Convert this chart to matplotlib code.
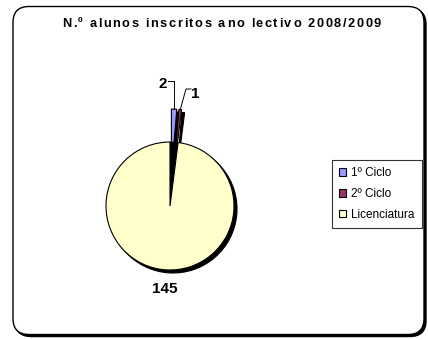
import matplotlib
matplotlib.use('Agg')
import numpy as np
import matplotlib.pyplot as plt
from matplotlib.patches import FancyBboxPatch, Wedge, Rectangle

plt.rcParams['font.family'] = ['Liberation Sans', 'DejaVu Sans']

W, H = 428, 340

categorias = ['1º Ciclo', '2º Ciclo', 'Licenciatura']
alunos = [2, 1, 145]
cores = ['#9999FF', '#993366', '#FFFFCC']
titulo = 'N.º alunos inscritos ano lectivo 2008/2009'

fig = plt.figure(figsize=(W / 100, H / 100), dpi=100)
ax = fig.add_axes([0, 0, 1, 1])


def Y(y):
    # pixel rows counted from the top
    return H - y


# rounded chart area with its shadow
ax.add_patch(FancyBboxPatch((15, Y(336.5)), 411, 328,
                            boxstyle='round,pad=0,rounding_size=16',
                            fc='black', ec='black', lw=1, zorder=0))
ax.add_patch(FancyBboxPatch((13, Y(334.5)), 411, 328,
                            boxstyle='round,pad=0,rounding_size=16',
                            fc='white', ec='black', lw=1, zorder=0.5))

# pie, small slices pulled out to the top
cx, cy, raio = 170, Y(206), 64
wedges, _ = ax.pie(alunos, colors=cores, startangle=90, counterclock=False,
                   explode=[33, 33, 0], center=(cx, cy), radius=raio,
                   wedgeprops=dict(edgecolor='black', linewidth=0.8))
for w in wedges[:2]:
    w.set_zorder(2)
wedges[2].set_zorder(4)

for w in wedges:
    ax.add_patch(Wedge((w.center[0] + 3, w.center[1] - 3), w.r, w.theta1, w.theta2,
                       fc='black', ec='black', lw=0.8, zorder=1))

# dark hole left behind by the pulled-out slices
grande = wedges[2]
ax.add_patch(Wedge((cx, cy), raio, grande.theta2, grande.theta1 + 360,
                   fc='black', ec='black', lw=0.5, zorder=3))

# value labels with leader lines
lab_fs = 11
pontas = []
for w in wedges[:2]:
    meio = np.deg2rad((w.theta1 + w.theta2) / 2)
    pontas.append((w.center[0] + w.r * np.cos(meio), w.center[1] + w.r * np.sin(meio)))

px, py = pontas[0]
ax.text(162.5, Y(83.5), str(alunos[0]), ha='center', va='center',
        fontsize=lab_fs, fontweight='bold', zorder=6)
ax.plot([168, px, px], [Y(81), Y(81), py], color='black', lw=0.7, zorder=6)

px, py = pontas[1]
ax.text(195, Y(94), str(alunos[1]), ha='center', va='center',
        fontsize=lab_fs, fontweight='bold', zorder=6)
ax.plot([191, 186, px], [Y(89), Y(89), py], color='black', lw=0.7, zorder=6)

ax.text(165, Y(289), str(alunos[2]), ha='center', va='center',
        fontsize=lab_fs, fontweight='bold', zorder=6)

# title with wide letter spacing
renderer = fig.canvas.get_renderer()
tit_fs = 9.2
medida = ax.text(0, 0, '', fontsize=tit_fs, fontweight='bold', alpha=0)


def largura(s):
    medida.set_text(s + 'x')
    a = medida.get_window_extent(renderer).width
    medida.set_text('x')
    return a - medida.get_window_extent(renderer).width


natural = largura(titulo)
extra = (319 - natural) / (len(titulo) - 1)
x0 = 62
for i, ch in enumerate(titulo):
    ax.text(x0 + largura(titulo[:i]) + i * extra, Y(27), ch, ha='left', va='baseline',
            fontsize=tit_fs, fontweight='bold', zorder=6)

# legend
handles = [Rectangle((0, 0), 1, 1, fc=c, ec='black', lw=0.8) for c in cores]
leg = ax.legend(handles, categorias, loc='upper left',
                bbox_to_anchor=(332 / W, Y(160) / H), bbox_transform=fig.transFigure,
                fontsize=8.5, handlelength=0.6, handleheight=0.6, handletextpad=0.45,
                labelspacing=0.75, borderpad=0.6, borderaxespad=0,
                fancybox=False, frameon=True)
leg.get_frame().set_edgecolor('black')
leg.get_frame().set_linewidth(0.8)
leg.set_zorder(7)

ax.set_xlim(0, W)
ax.set_ylim(0, H)
ax.set_aspect('equal')
ax.axis('off')

fig.savefig('out.png', dpi=100)
